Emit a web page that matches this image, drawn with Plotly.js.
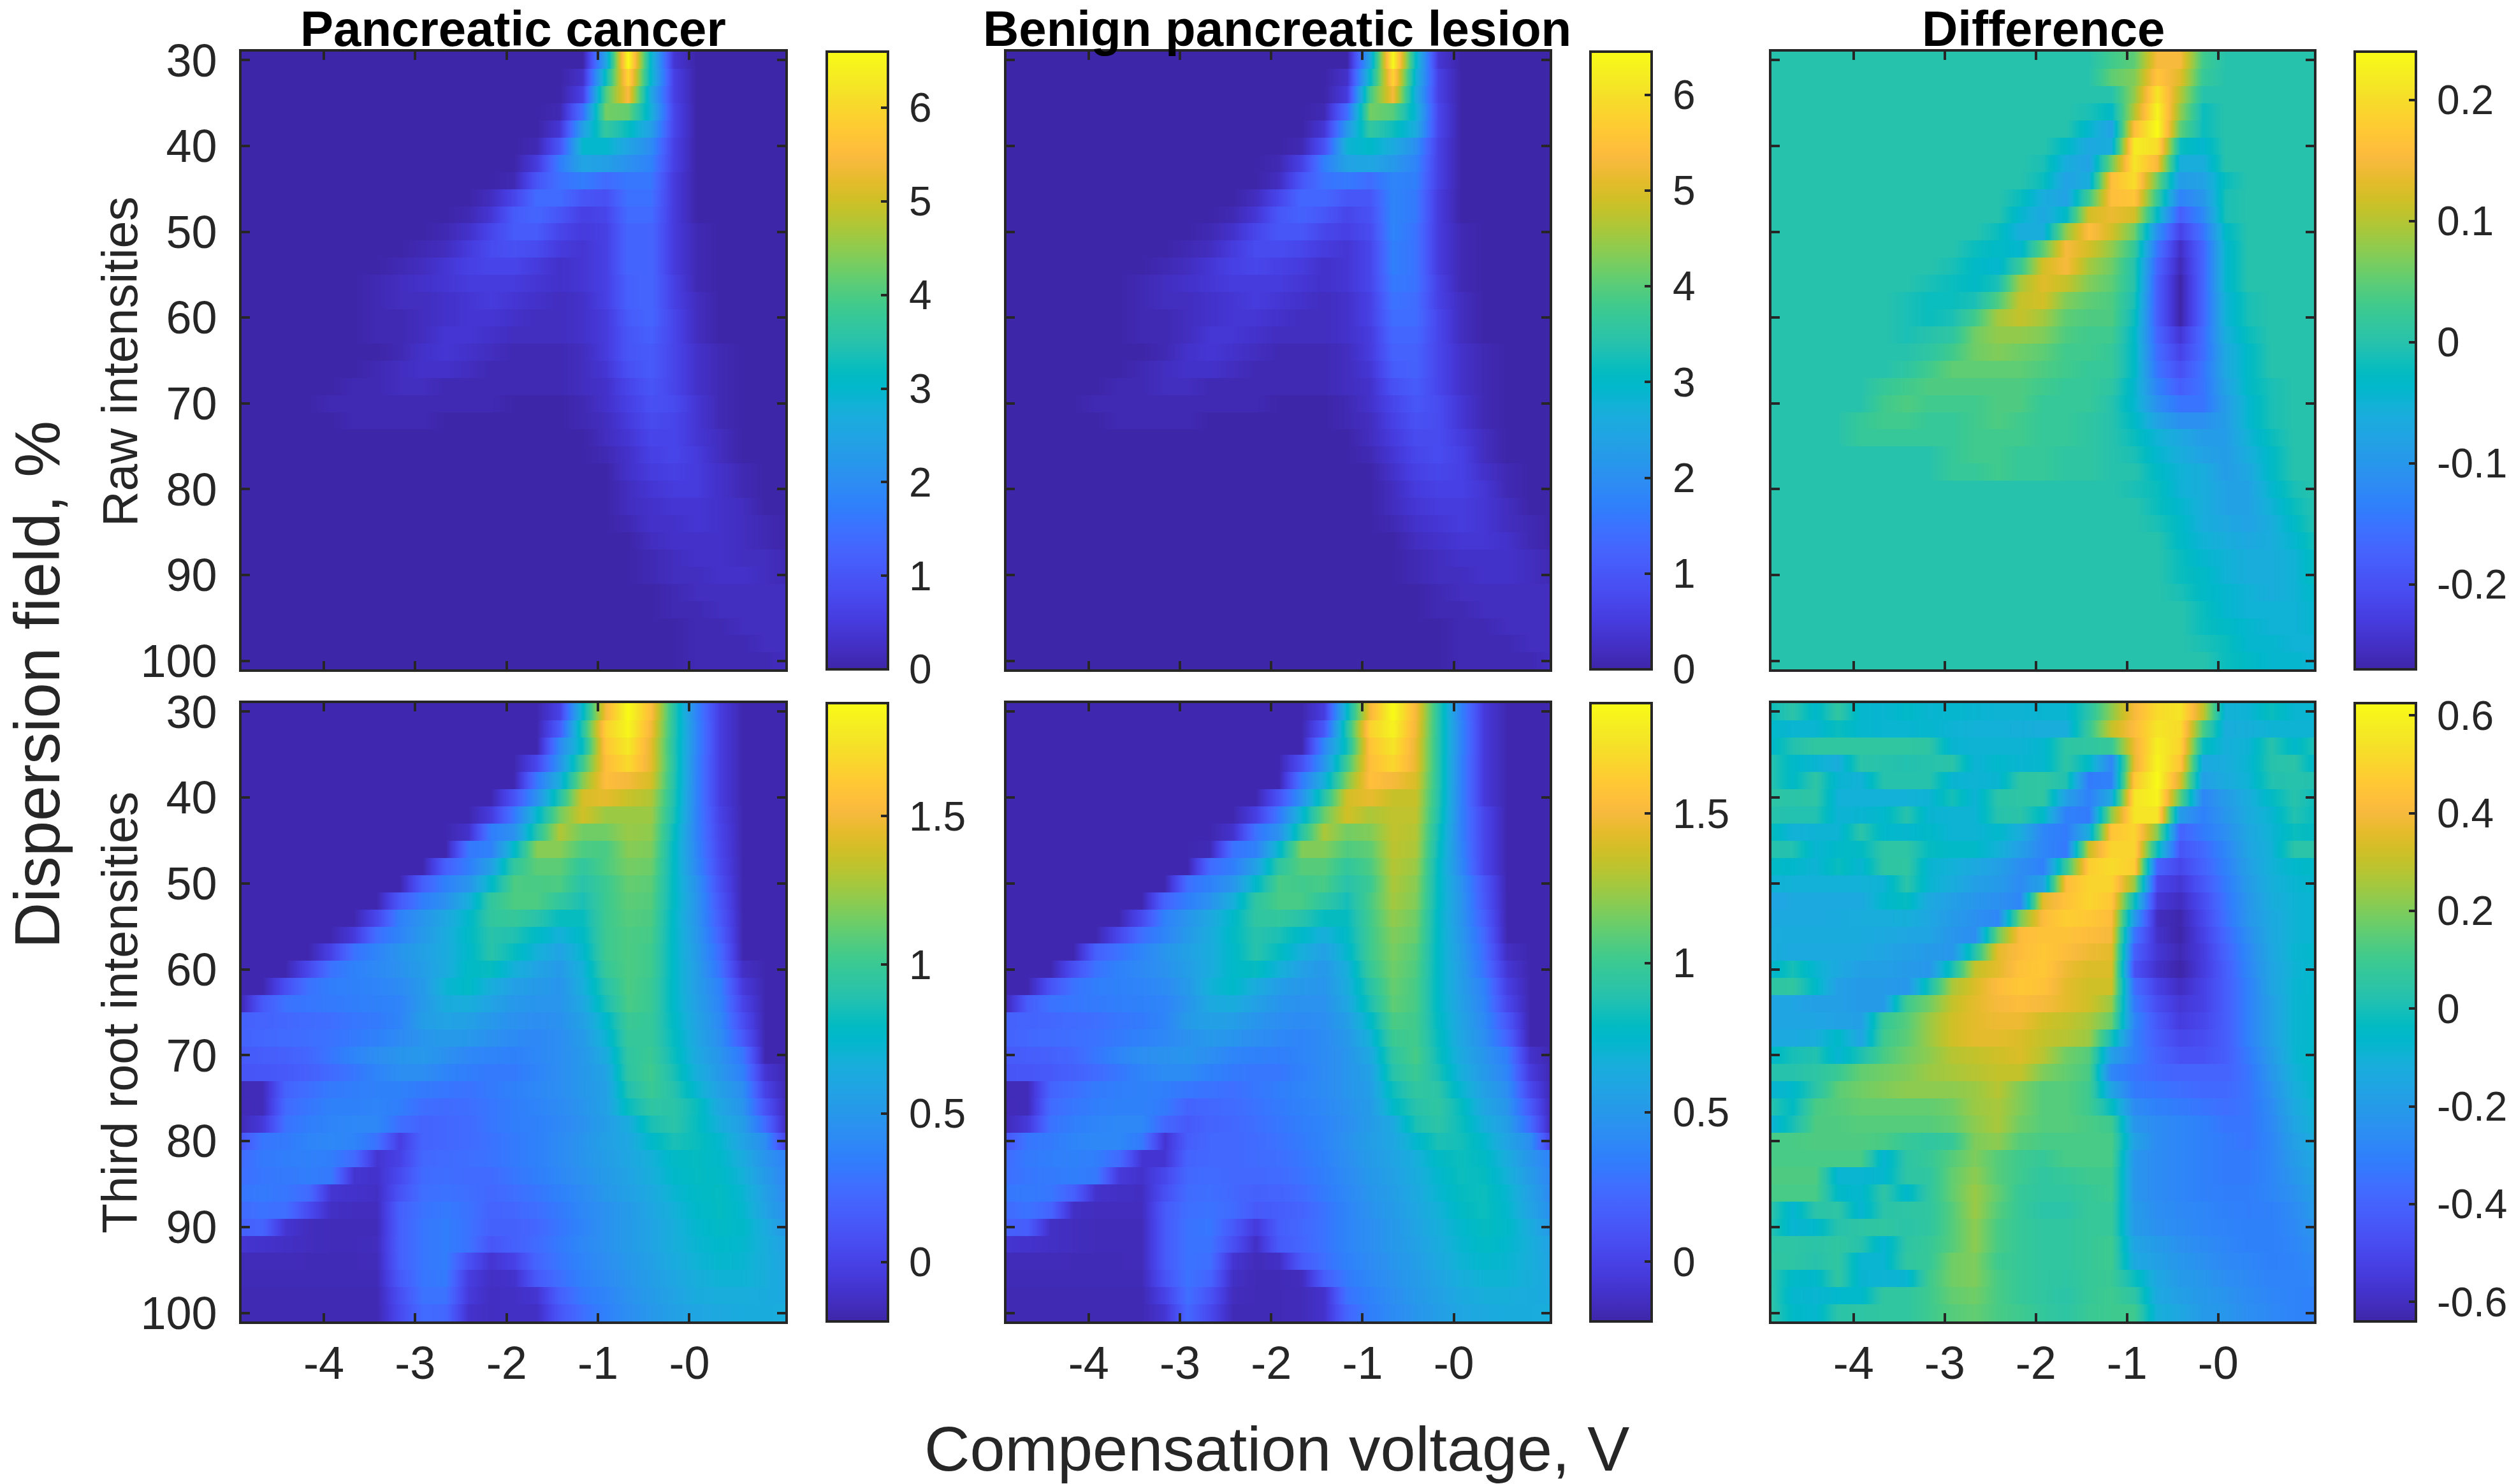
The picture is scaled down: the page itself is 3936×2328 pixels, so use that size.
<!DOCTYPE html>
<html>
<head>
<meta charset="utf-8">
<title>Dispersion field maps</title>
<script src="https://cdn.plot.ly/plotly-3.0.1.min.js"></script>
<style>
    html, body { margin: 0; padding: 0; background: #fff; }
</style>
</head>
<body>
<div id="chart"></div>
<script>
// Compensation voltage (V) of each column, dispersion field (%) of each row.
const voltages = [-4.92,-4.67,-4.42,-4.17,-3.92,-3.67,-3.42,-3.17,-2.92,-2.67,-2.42,-2.17,-1.92,-1.67,-1.42,-1.17,-0.92,-0.67,-0.42,-0.17,0.08,0.33,0.58,0.83,1.08];
const fields = [30,32,34,36,38,40,42,44,46,48,50,52,54,56,58,60,62,64,66,68,70,72,74,76,78,80,82,84,86,88,90,92,94,96,98,100];

// Raw intensities, in tenths.
const rawCancer = [
[0,0,0,0,0,0,0,0,0,0,0,0,0,0,0,0,25,66,30,4,0,0,0,0,0],
[0,0,0,0,0,0,0,0,0,0,0,0,0,0,0,3,32,60,30,6,0,0,0,0,0],
[0,0,0,0,0,0,0,0,0,0,0,0,0,0,0,6,40,55,26,6,0,0,0,0,0],
[0,0,0,0,0,0,0,0,0,0,0,0,0,0,1,15,43,42,28,7,0,0,0,0,0],
[0,0,0,0,0,0,0,0,0,0,0,0,0,0,4,24,37,32,24,7,0,0,0,0,0],
[0,0,0,0,0,0,0,0,0,0,0,0,0,1,10,30,30,25,20,6,0,0,0,0,0],
[0,0,0,0,0,0,0,0,0,0,0,0,0,5,17,25,24,21,18,6,0,0,0,0,0],
[0,0,0,0,0,0,0,0,0,0,0,0,1,10,15,17,14,16,16,5,0,0,0,0,0],
[0,0,0,0,0,0,0,0,0,0,0,2,7,14,14,10,9,15,15,5,0,0,0,0,0],
[0,0,0,0,0,0,0,0,0,0,1,4,11,13,10,6,7,14,14,5,0,0,0,0,0],
[0,0,0,0,0,0,0,0,0,1,3,7,11,11,7,5,6,13,13,5,1,0,0,0,0],
[0,0,0,0,0,0,0,0,1,2,5,8,9,8,5,4,6,13,13,5,1,0,0,0,0],
[0,0,0,0,0,0,0,1,2,4,6,7,7,5,3,4,6,13,13,5,1,0,0,0,0],
[0,0,0,0,0,0,1,2,3,4,5,5,5,4,3,4,6,12,13,6,1,0,0,0,0],
[0,0,0,0,0,0,1,2,2,3,4,5,4,3,2,3,6,12,13,6,2,0,0,0,0],
[0,0,0,0,0,0,1,1,2,3,4,4,3,2,2,3,5,11,13,7,2,0,0,0,0],
[0,0,0,0,0,0,1,1,2,4,4,3,2,2,2,3,5,10,12,7,2,0,0,0,0],
[0,0,0,0,0,0,0,1,3,4,3,2,1,1,1,2,5,10,11,7,3,1,0,0,0],
[0,0,0,0,0,0,1,2,3,3,2,1,1,1,1,2,4,9,11,7,3,1,0,0,0],
[0,0,0,0,0,1,1,2,2,1,1,1,1,1,1,2,3,7,10,7,3,1,0,0,0],
[0,0,0,0,1,1,1,1,1,1,1,1,0,0,0,1,3,6,9,8,4,1,0,0,0],
[0,0,0,0,0,1,1,1,1,0,0,0,0,0,0,1,2,5,8,7,4,1,0,0,0],
[0,0,0,0,0,0,0,0,0,0,0,0,0,0,0,0,2,4,7,7,4,2,0,0,0],
[0,0,0,0,0,0,0,0,0,0,0,0,0,0,0,0,1,3,6,7,5,2,0,0,0],
[0,0,0,0,0,0,0,0,0,0,0,0,0,0,0,0,0,3,5,6,5,3,1,0,0],
[0,0,0,0,0,0,0,0,0,0,0,0,0,0,0,0,0,2,4,5,5,3,1,0,0],
[0,0,0,0,0,0,0,0,0,0,0,0,0,0,0,0,0,2,3,4,4,3,2,0,0],
[0,0,0,0,0,0,0,0,0,0,0,0,0,0,0,0,0,1,3,3,4,3,2,1,0],
[0,0,0,0,0,0,0,0,0,0,0,0,0,0,0,0,0,0,2,3,3,3,2,1,0],
[0,0,0,0,0,0,0,0,0,0,0,0,0,0,0,0,0,0,1,2,3,3,2,2,1],
[0,0,0,0,0,0,0,0,0,0,0,0,0,0,0,0,0,0,1,2,2,3,3,2,1],
[0,0,0,0,0,0,0,0,0,0,0,0,0,0,0,0,0,0,0,1,2,2,2,2,2],
[0,0,0,0,0,0,0,0,0,0,0,0,0,0,0,0,0,0,0,1,1,2,2,2,2],
[0,0,0,0,0,0,0,0,0,0,0,0,0,0,0,0,0,0,0,0,1,1,2,2,2],
[0,0,0,0,0,0,0,0,0,0,0,0,0,0,0,0,0,0,0,0,1,1,1,2,2],
[0,0,0,0,0,0,0,0,0,0,0,0,0,0,0,0,0,0,0,0,1,1,1,1,2]
];

const rawBenign = [
[0,0,0,0,0,0,0,0,0,0,0,0,0,0,0,0,25,64,30,4,0,0,0,0,0],
[0,0,0,0,0,0,0,0,0,0,0,0,0,0,0,3,30,58,28,6,0,0,0,0,0],
[0,0,0,0,0,0,0,0,0,0,0,0,0,0,0,5,38,53,26,6,0,0,0,0,0],
[0,0,0,0,0,0,0,0,0,0,0,0,0,0,1,14,42,40,28,7,0,0,0,0,0],
[0,0,0,0,0,0,0,0,0,0,0,0,0,0,4,22,36,32,26,7,0,0,0,0,0],
[0,0,0,0,0,0,0,0,0,0,0,0,0,1,9,28,30,26,20,6,0,0,0,0,0],
[0,0,0,0,0,0,0,0,0,0,0,0,1,6,17,24,25,22,18,6,0,0,0,0,0],
[0,0,0,0,0,0,0,0,0,0,0,0,2,10,15,16,14,18,17,6,0,0,0,0,0],
[0,0,0,0,0,0,0,0,0,0,0,2,7,13,13,10,10,18,16,5,0,0,0,0,0],
[0,0,0,0,0,0,0,0,0,0,1,4,10,12,10,7,9,18,16,5,0,0,0,0,0],
[0,0,0,0,0,0,0,0,0,1,3,7,10,10,7,6,8,18,15,5,1,0,0,0,0],
[0,0,0,0,0,0,0,0,1,2,5,8,8,7,5,4,7,17,15,5,1,0,0,0,0],
[0,0,0,0,0,0,0,1,2,4,6,7,6,5,3,4,7,17,15,5,1,0,0,0,0],
[0,0,0,0,0,0,1,2,3,4,5,5,5,4,3,4,7,16,15,6,1,0,0,0,0],
[0,0,0,0,0,0,1,2,2,3,4,5,4,3,2,3,6,15,14,6,2,0,0,0,0],
[0,0,0,0,0,0,1,1,2,3,4,4,3,2,2,3,6,14,14,7,2,0,0,0,0],
[0,0,0,0,0,0,1,1,2,4,4,3,2,2,2,3,5,13,13,7,2,0,0,0,0],
[0,0,0,0,0,0,0,1,3,4,3,2,1,1,1,2,5,12,12,7,3,1,0,0,0],
[0,0,0,0,0,0,1,2,3,3,2,1,1,1,1,2,4,11,12,7,3,1,0,0,0],
[0,0,0,0,0,1,1,2,2,1,1,1,1,1,1,2,3,9,11,7,3,1,0,0,0],
[0,0,0,0,1,1,1,1,1,1,1,1,0,0,0,1,3,7,10,8,4,1,0,0,0],
[0,0,0,0,0,1,1,1,1,0,0,0,0,0,0,1,2,6,9,8,4,1,0,0,0],
[0,0,0,0,0,0,0,0,0,0,0,0,0,0,0,0,2,5,8,8,5,2,0,0,0],
[0,0,0,0,0,0,0,0,0,0,0,0,0,0,0,0,1,4,7,8,6,2,0,0,0],
[0,0,0,0,0,0,0,0,0,0,0,0,0,0,0,0,0,3,6,7,6,3,1,0,0],
[0,0,0,0,0,0,0,0,0,0,0,0,0,0,0,0,0,2,5,6,6,4,1,0,0],
[0,0,0,0,0,0,0,0,0,0,0,0,0,0,0,0,0,2,4,5,5,4,2,0,0],
[0,0,0,0,0,0,0,0,0,0,0,0,0,0,0,0,0,1,3,4,5,4,2,1,0],
[0,0,0,0,0,0,0,0,0,0,0,0,0,0,0,0,0,0,2,3,4,4,3,1,0],
[0,0,0,0,0,0,0,0,0,0,0,0,0,0,0,0,0,0,1,2,3,3,3,2,1],
[0,0,0,0,0,0,0,0,0,0,0,0,0,0,0,0,0,0,1,2,2,3,3,2,1],
[0,0,0,0,0,0,0,0,0,0,0,0,0,0,0,0,0,0,0,1,2,2,2,2,2],
[0,0,0,0,0,0,0,0,0,0,0,0,0,0,0,0,0,0,0,1,1,2,2,2,2],
[0,0,0,0,0,0,0,0,0,0,0,0,0,0,0,0,0,0,0,0,1,1,2,2,2],
[0,0,0,0,0,0,0,0,0,0,0,0,0,0,0,0,0,0,0,0,1,1,1,2,2],
[0,0,0,0,0,0,0,0,0,0,0,0,0,0,0,0,0,0,0,0,1,1,1,1,2]
];

// Difference of raw intensities, in hundredths.
const rawDifference = [
[0,0,0,0,0,0,0,0,0,0,0,0,0,0,0,3,5,15,15,3,0,0,0,0,0],
[0,0,0,0,0,0,0,0,0,0,0,0,0,0,0,5,7,17,13,2,0,0,0,0,0],
[0,0,0,0,0,0,0,0,0,0,0,0,0,0,0,0,8,21,10,0,0,0,0,0,0],
[0,0,0,0,0,0,0,0,0,0,0,0,0,0,-1,-3,10,23,8,-2,0,0,0,0,0],
[0,0,0,0,0,0,0,0,0,0,0,0,0,0,-4,-8,16,24,5,-2,0,0,0,0,0],
[0,0,0,0,0,0,0,0,0,0,0,0,0,-3,-7,-6,22,20,-2,-4,0,0,0,0,0],
[0,0,0,0,0,0,0,0,0,0,0,0,-1,-6,-8,6,21,15,-6,-6,0,0,0,0,0],
[0,0,0,0,0,0,0,0,0,0,0,0,-2,-8,-6,16,20,6,-9,-8,-2,0,0,0,0],
[0,0,0,0,0,0,0,0,0,0,0,-2,-6,-8,3,16,17,2,-13,-10,-1,0,0,0,0],
[0,0,0,0,0,0,0,0,0,0,0,-4,-7,-3,12,14,12,-3,-18,-12,-1,0,0,0,0],
[0,0,0,0,0,0,0,0,0,0,-2,-6,-6,8,16,12,6,-11,-22,-15,-3,0,0,0,0],
[0,0,0,0,0,0,0,0,0,-2,-3,-4,5,15,12,8,2,-15,-25,-17,-4,0,0,0,0],
[0,0,0,0,0,0,0,0,-1,-3,-4,2,12,15,9,6,0,-17,-26,-17,-4,0,0,0,0],
[0,0,0,0,0,0,0,-1,-2,-3,-1,9,13,11,7,5,0,-18,-27,-17,-4,0,0,0,0],
[0,0,0,0,0,0,-1,-2,-2,-1,4,11,12,7,5,4,-1,-18,-27,-17,-5,-1,0,0,0],
[0,0,0,0,0,0,-1,-2,-1,3,9,11,9,5,4,4,-2,-18,-27,-17,-5,-1,0,0,0],
[0,0,0,0,0,0,-1,0,1,6,8,8,7,4,3,3,-3,-17,-24,-16,-6,-2,0,0,0],
[0,0,0,0,0,0,0,1,3,6,7,6,5,3,3,2,-3,-16,-22,-16,-7,-3,0,0,0],
[0,0,0,0,0,0,1,3,5,5,5,5,4,3,2,2,-3,-15,-20,-15,-7,-3,0,0,0],
[0,0,0,0,0,2,3,4,4,4,4,4,3,2,2,1,-4,-13,-18,-15,-8,-3,-1,0,0],
[0,0,0,0,0,3,4,3,3,3,4,4,2,2,2,0,-4,-11,-15,-15,-9,-4,-1,0,0],
[0,0,0,0,2,3,3,2,2,3,4,3,2,2,1,0,-3,-8,-11,-11,-9,-4,-1,0,0],
[0,0,0,0,2,2,2,2,2,3,3,3,2,2,1,0,-2,-5,-7,-9,-9,-5,-2,0,0],
[0,0,0,0,0,0,0,0,2,3,3,2,2,1,1,0,-1,-4,-6,-8,-9,-6,-3,0,0],
[0,0,0,0,0,0,0,0,2,2,3,2,2,1,1,0,0,-3,-5,-6,-9,-7,-3,0,0],
[0,0,0,0,0,0,0,0,0,0,0,0,0,0,0,0,-1,-2,-5,-6,-8,-8,-4,-1,0],
[0,0,0,0,0,0,0,0,0,0,0,0,0,0,0,0,0,-2,-4,-6,-8,-8,-5,-2,0],
[0,0,0,0,0,0,0,0,0,0,0,0,0,0,0,0,0,-1,-3,-6,-7,-8,-6,-3,0],
[0,0,0,0,0,0,0,0,0,0,0,0,0,0,0,0,0,0,-3,-5,-6,-7,-6,-4,-1],
[0,0,0,0,0,0,0,0,0,0,0,0,0,0,0,0,0,0,-2,-4,-5,-6,-6,-5,-2],
[0,0,0,0,0,0,0,0,0,0,0,0,0,0,0,0,0,0,-2,-3,-5,-6,-6,-5,-2],
[0,0,0,0,0,0,0,0,0,0,0,0,0,0,0,0,0,0,-1,-3,-4,-5,-6,-5,-3],
[0,0,0,0,0,0,0,0,0,0,0,0,0,0,0,0,0,0,0,-2,-4,-5,-5,-5,-4],
[0,0,0,0,0,0,0,0,0,0,0,0,0,0,0,0,0,0,0,-2,-3,-4,-5,-5,-4],
[0,0,0,0,0,0,0,0,0,0,0,0,0,0,0,0,0,0,0,-1,-2,-4,-4,-5,-5],
[0,0,0,0,0,0,0,0,0,0,0,0,0,0,0,0,0,0,0,0,-2,-3,-4,-4,-5]
];

// Third root intensities, in hundredths.
const rootCancer = [
[-18,-18,-18,-18,-18,-18,-18,-18,-18,-18,-18,-18,-18,-18,0,76,150,188,155,91,36,-3,-18,-18,-18],
[-18,-18,-18,-18,-18,-18,-18,-18,-18,-18,-18,-18,-18,-18,16,91,165,185,150,91,38,-3,-18,-18,-18],
[-18,-18,-18,-18,-18,-18,-18,-18,-18,-18,-18,-18,-18,-18,41,81,160,178,145,90,38,-3,-18,-18,-18],
[-18,-18,-18,-18,-18,-18,-18,-18,-18,-18,-18,-18,-18,3,48,101,155,170,145,91,36,-3,-18,-18,-18],
[-18,-18,-18,-18,-18,-18,-18,-18,-18,-18,-18,-18,-18,31,66,120,155,150,140,90,36,-3,-18,-18,-18],
[-18,-18,-18,-18,-18,-18,-18,-18,-18,-18,-18,-18,10,46,90,140,145,136,130,88,36,-3,-18,-18,-18],
[-18,-18,-18,-18,-18,-18,-18,-18,-18,-18,-18,-4,31,74,115,138,125,125,125,86,36,0,-18,-18,-18],
[-18,-18,-18,-18,-18,-18,-18,-18,-18,-18,-10,34,46,91,130,115,115,124,122,81,36,2,-18,-18,-18],
[-18,-18,-18,-18,-18,-18,-18,-18,-18,-18,31,36,76,120,120,106,105,120,118,78,38,3,-18,-18,-18],
[-18,-18,-18,-18,-18,-18,-18,-18,-18,18,34,56,96,110,110,96,106,116,114,78,40,5,-18,-18,-18],
[-18,-18,-18,-18,-18,-18,-18,-18,17,36,48,76,106,105,106,91,101,112,110,78,46,8,-18,-18,-18],
[-18,-18,-18,-18,-18,-18,-18,14,34,46,66,96,106,106,96,86,101,110,108,78,48,12,-18,-18,-18],
[-18,-18,-18,-18,-18,-18,3,36,48,61,76,96,98,91,81,81,101,108,106,76,48,15,-18,-18,-18],
[-18,-18,-18,-18,-18,-5,26,38,51,64,78,91,88,78,68,78,101,106,104,76,50,19,-18,-18,-18],
[-18,-18,-18,-18,0,28,38,48,56,64,76,91,81,68,58,74,101,106,102,76,52,24,-18,-18,-18],
[-18,-18,-18,4,28,36,41,46,54,64,78,81,68,58,52,68,98,106,102,76,54,28,-12,-18,-18],
[-18,-18,8,28,34,36,38,42,51,71,78,66,56,52,48,66,91,106,100,76,54,36,-5,-18,-18],
[-18,14,28,30,32,34,36,38,51,64,66,58,50,48,48,61,86,105,100,76,56,38,1,-18,-18],
[18,20,22,24,26,30,32,38,54,58,56,50,46,44,46,56,76,100,98,78,58,41,7,-18,-18],
[20,22,24,26,28,32,36,42,48,52,50,46,42,40,44,52,71,98,98,80,60,44,14,-18,-18],
[14,16,18,22,30,38,44,48,50,46,40,38,36,40,44,50,64,95,100,82,62,48,30,-18,-18],
[11,12,14,18,24,30,38,44,44,38,34,32,32,38,44,50,58,94,102,86,66,51,36,-8,-18],
[-15,-15,20,26,32,34,36,36,32,30,28,32,36,40,44,50,56,88,100,90,72,56,44,0,-18],
[-16,-15,24,30,36,36,38,34,26,24,26,30,34,38,42,48,56,81,94,92,82,61,48,10,-18],
[-16,-5,28,34,38,40,40,26,20,22,24,30,34,36,40,46,54,64,86,92,81,66,54,24,-18],
[11,30,32,38,40,38,28,-2,20,22,24,28,32,36,42,48,56,61,76,86,82,74,58,44,-5],
[24,32,34,36,34,24,-8,0,22,24,26,28,32,36,42,48,54,60,68,78,80,76,64,48,36],
[26,30,32,34,32,-8,-10,5,24,26,24,24,30,34,40,46,52,58,66,76,80,78,68,52,38],
[30,32,30,24,-8,-10,-12,10,26,28,26,22,26,30,36,42,50,56,62,72,78,80,72,56,40],
[24,28,26,5,-12,-14,-14,18,28,32,28,20,22,26,32,40,46,52,60,68,76,80,74,58,44],
[18,20,-8,-14,-15,-15,-15,18,30,34,28,18,18,22,30,38,46,52,58,66,74,78,76,64,50],
[-8,-10,-12,-14,-15,-15,-14,18,30,34,28,12,18,24,32,40,46,52,58,66,72,76,74,66,56],
[-15,-15,-15,-16,-16,-16,-15,18,30,34,8,-8,0,21,30,38,44,50,56,64,70,74,72,66,58],
[-16,-16,-16,-16,-16,-16,-16,14,30,32,-3,-12,-10,14,26,36,42,48,54,60,66,70,70,66,60],
[-17,-17,-17,-17,-17,-17,-17,8,28,28,-5,-13,-12,-8,18,32,38,46,52,58,64,66,66,64,62],
[-17,-17,-17,-17,-17,-17,-17,5,24,22,-10,-13,-12,-12,12,26,36,44,50,56,60,62,64,64,66]
];

const rootBenign = [
[-18,-18,-18,-18,-18,-18,-18,-18,-18,-18,-18,-18,-18,-18,-3,76,150,187,150,91,36,-5,-18,-18,-18],
[-18,-18,-18,-18,-18,-18,-18,-18,-18,-18,-18,-18,-18,-18,13,91,165,182,148,91,38,-5,-18,-18,-18],
[-18,-18,-18,-18,-18,-18,-18,-18,-18,-18,-18,-18,-18,-18,39,84,158,175,145,91,38,-5,-18,-18,-18],
[-18,-18,-18,-18,-18,-18,-18,-18,-18,-18,-18,-18,-18,8,48,101,155,168,145,91,36,-5,-18,-18,-18],
[-18,-18,-18,-18,-18,-18,-18,-18,-18,-18,-18,-18,-18,32,66,118,155,150,140,91,36,-5,-18,-18,-18],
[-18,-18,-18,-18,-18,-18,-18,-18,-18,-18,-18,-18,10,46,90,138,145,135,135,90,36,-5,-18,-18,-18],
[-18,-18,-18,-18,-18,-18,-18,-18,-18,-18,-18,-2,31,72,112,138,128,133,133,88,36,2,-18,-18,-18],
[-18,-18,-18,-18,-18,-18,-18,-18,-18,-18,-10,28,46,91,128,115,118,133,130,84,36,2,-18,-18,-18],
[-18,-18,-18,-18,-18,-18,-18,-18,-18,-16,28,36,74,118,118,106,110,132,128,81,38,2,-18,-18,-18],
[-18,-18,-18,-18,-18,-18,-18,-18,-18,24,34,56,94,108,108,96,105,130,124,78,40,2,-18,-18,-18],
[-18,-18,-18,-18,-18,-18,-18,-18,26,36,48,76,104,102,104,90,100,128,120,78,46,12,-18,-18,-18],
[-18,-18,-18,-18,-18,-18,-18,20,34,46,66,94,104,104,94,84,104,126,118,78,48,13,-18,-18,-18],
[-18,-18,-18,-18,-18,-18,5,36,48,61,76,94,96,90,80,80,102,122,114,76,48,17,-18,-18,-18],
[-18,-18,-18,-18,-18,3,26,38,51,64,78,90,86,76,66,78,101,118,112,76,50,22,-18,-18,-18],
[-18,-18,-18,-18,18,28,38,48,56,64,76,90,80,66,56,74,101,116,108,76,52,25,-13,-18,-18],
[-18,-18,-18,8,28,36,41,46,54,64,76,80,68,56,50,66,98,114,106,76,54,28,-7,-18,-18],
[-18,-18,10,28,34,36,38,42,51,68,76,64,54,50,48,64,91,112,104,76,54,36,-2,-18,-18],
[-18,16,28,30,32,34,36,38,48,62,64,56,48,46,46,60,86,110,104,76,56,38,3,-18,-18],
[18,20,22,24,26,30,32,38,52,56,54,48,44,42,44,54,76,105,102,78,58,41,13,-18,-18],
[20,22,24,26,28,32,36,40,46,50,48,44,40,38,42,50,68,100,102,80,60,44,20,-18,-18],
[14,16,18,22,30,38,44,46,48,44,38,36,34,38,42,48,61,94,104,82,62,48,34,-10,-18],
[11,12,14,18,24,30,38,42,42,36,32,30,30,36,42,48,56,90,100,86,66,51,38,-4,-18],
[-15,-15,20,26,32,34,36,34,30,28,26,30,34,38,42,48,54,82,95,92,72,56,44,4,-18],
[-16,-15,24,30,34,36,36,32,20,22,24,28,32,36,40,46,52,76,90,94,80,60,48,14,-18],
[-16,-5,28,34,38,40,40,22,14,20,22,26,30,34,38,44,52,62,86,92,82,66,54,24,-18],
[11,30,32,38,40,40,32,-8,16,22,22,24,28,32,38,46,54,60,74,86,84,74,58,44,-5],
[24,32,34,36,34,24,-8,-8,20,22,22,24,26,30,36,44,52,58,66,78,82,78,64,48,36],
[26,30,32,34,32,-5,-10,3,22,24,22,22,24,28,34,42,50,56,64,74,82,80,68,52,38],
[30,32,30,18,-10,-12,-13,8,24,26,22,18,20,24,32,40,48,54,62,72,80,82,72,56,40],
[24,28,20,-12,-14,-14,-14,14,26,28,24,14,16,20,28,38,46,52,60,68,78,82,74,58,44],
[18,16,-12,-14,-15,-15,-15,14,28,30,14,-5,16,22,28,38,44,50,58,66,74,80,76,64,50],
[-8,-10,-12,-14,-15,-15,-15,14,28,28,8,-12,14,21,28,38,44,50,56,64,72,78,74,66,56],
[-15,-15,-15,-16,-16,-16,-15,14,28,26,-8,-15,-12,14,26,36,42,48,54,62,70,74,72,66,58],
[-16,-16,-16,-16,-16,-16,-16,10,28,20,-12,-16,-16,-14,16,32,40,46,52,58,66,70,70,66,60],
[-17,-17,-17,-17,-17,-17,-17,0,26,10,-14,-16,-16,-15,-10,28,36,44,50,56,62,66,66,64,62],
[-17,-17,-17,-17,-17,-17,-17,-8,22,4,-16,-16,-16,-15,-10,21,34,42,48,54,60,62,64,64,66]
];

const rootDifference = [
[-2,4,-6,6,-7,-8,-5,-8,-7,-8,-9,-9,-8,-8,4,22,40,52,55,30,-10,-9,-2,-8,-8],
[-6,-8,-8,-2,-7,-8,-8,-7,-9,-10,-10,-11,-12,-12,8,30,42,55,52,12,-12,-11,-9,-9,-9],
[-7,2,6,6,6,6,6,5,-8,-9,-9,-9,-7,5,6,8,38,58,50,-2,-11,-9,3,-6,2],
[3,-5,-8,-12,4,3,2,3,4,-9,-6,-8,-7,5,-5,-28,37,60,45,-14,-12,-8,3,4,-7],
[3,-5,5,-8,-10,3,3,3,-8,-9,-8,5,6,2,-32,-30,46,62,34,-18,-13,-9,2,3,2],
[5,4,5,-10,-10,-10,-10,-9,0,-9,4,5,6,-18,-30,-14,55,60,15,-28,-20,-12,-4,3,-2],
[3,2,2,-9,-8,-6,3,-8,-9,-9,3,4,-5,-30,-32,22,55,55,-20,-30,-22,-13,-8,2,-3],
[-2,-10,-9,-9,4,-6,-7,-5,-9,-9,-6,-12,-28,-32,-12,45,50,21,-40,-32,-25,-15,-9,-2,-4],
[3,2,-8,-5,-4,5,5,-3,-5,-5,-10,-18,-28,-33,31,50,50,-2,-45,-38,-28,-16,-10,4,4],
[-4,-6,-9,-2,-8,5,6,-8,-10,-14,-18,-25,-30,8,48,52,48,-40,-50,-40,-30,-18,-10,-6,-5],
[-9,-10,-10,-10,-10,-9,4,-8,-12,-18,-20,-26,-17,42,50,50,24,-50,-56,-44,-32,-20,-11,-8,-7],
[-16,-14,-14,-14,-14,-6,-3,-14,-18,-22,-24,-28,36,44,50,46,-2,-55,-60,-48,-34,-22,-12,-9,-8],
[-14,-14,-14,-13,-12,-12,-11,-15,-20,-24,-28,19,42,48,46,42,-20,-60,-63,-50,-35,-22,-14,-9,-8],
[-12,-13,-13,-13,-13,-14,-15,-16,-22,-25,17,42,44,44,42,40,-34,-58,-64,-52,-38,-25,-14,-9,-8],
[-12,-14,-14,-14,-14,-16,-18,-20,-22,3,36,42,46,42,38,36,-41,-56,-62,-54,-40,-27,-15,-8,-6],
[-8,0,-8,-14,-18,-18,-20,-22,0,30,36,44,46,38,34,34,-46,-58,-64,-54,-42,-28,-16,-9,-6],
[5,6,-5,-18,-20,-20,-22,0,26,34,42,46,44,36,32,32,-36,-52,-60,-52,-42,-30,-16,-8,-7],
[-16,-16,-18,-18,-20,-20,10,18,30,36,40,42,40,36,32,24,-32,-48,-56,-52,-42,-30,-18,-8,-6],
[-16,-16,-16,-17,-18,8,14,24,32,36,38,38,32,30,26,17,-28,-44,-54,-50,-42,-30,-18,-8,-6],
[-14,-14,-12,-5,-16,10,15,24,32,36,36,34,30,28,24,0,-30,-42,-50,-48,-42,-30,-18,-8,-6],
[-6,0,2,-8,1,12,18,22,28,30,32,34,28,18,14,-18,-30,-40,-46,-46,-42,-32,-20,-8,-5],
[3,3,5,9,16,18,20,24,26,28,30,30,20,16,12,-28,-34,-38,-40,-40,-40,-34,-22,-10,-5],
[-8,-6,4,15,18,20,22,22,22,24,28,20,14,14,10,-16,-32,-34,-36,-38,-38,-34,-24,-12,-6],
[3,-4,12,14,16,16,16,16,18,24,26,20,14,14,10,-3,-26,-30,-32,-34,-36,-34,-26,-14,-8],
[-10,0,13,13,14,14,14,14,16,22,26,18,14,14,12,10,-22,-26,-28,-30,-34,-34,-27,-16,-9],
[12,12,13,13,13,12,8,6,8,20,22,14,12,12,12,12,-17,-26,-28,-30,-32,-34,-28,-18,-12],
[12,12,12,12,12,-8,5,8,14,20,14,10,8,12,12,12,-22,-26,-28,-30,-32,-32,-28,-20,-14],
[13,13,13,-8,-8,-7,5,6,16,22,14,10,6,8,10,10,-22,-26,-28,-30,-32,-32,-28,-22,-16],
[12,12,12,-5,-7,5,-6,6,16,24,16,8,6,6,8,10,-22,-26,-28,-30,-31,-31,-28,-24,-18],
[5,-8,4,5,-8,4,5,6,14,24,14,8,4,4,8,8,-20,-25,-27,-28,-30,-31,-30,-26,-20],
[3,-8,-6,3,5,6,4,6,14,22,12,8,6,6,8,8,-20,-24,-26,-28,-29,-30,-30,-27,-22],
[5,5,4,6,3,-8,5,8,14,22,12,8,6,6,8,10,-16,-20,-24,-26,-28,-30,-30,-28,-24],
[6,5,3,6,-8,-8,6,8,18,20,10,8,6,6,8,10,-14,-18,-22,-24,-27,-28,-30,-29,-26],
[4,-5,-6,6,-8,-9,-8,10,18,20,12,8,6,5,8,9,-2,-15,-20,-22,-25,-27,-29,-29,-28],
[5,-7,-8,-6,-6,6,6,10,16,18,12,8,6,4,8,10,5,-14,-18,-21,-23,-26,-28,-29,-30],
[5,-5,-7,4,5,6,6,10,14,16,12,10,7,5,9,10,10,-11,-15,-20,-22,-25,-27,-29,-30]
];

const columnTitles = ["Pancreatic cancer", "Benign pancreatic lesion", "Difference"];
const rowTitles = ["Raw intensities", "Third root intensities"];
const xTickValues = [-4, -3, -2, -1, 0];
const xTickLabels = ["-4", "-3", "-2", "-1", "-0"];
const yTickValues = [30, 40, 50, 60, 70, 80, 90, 100];

// MATLAB parula, 64 levels
const parula = [
    [0.2422,0.1504,0.6603],[0.2504,0.1650,0.7076],[0.2578,0.1818,0.7511],[0.2647,0.1978,0.7952],
    [0.2706,0.2147,0.8364],[0.2751,0.2342,0.8710],[0.2783,0.2559,0.8991],[0.2803,0.2782,0.9221],
    [0.2813,0.3006,0.9414],[0.2810,0.3228,0.9579],[0.2795,0.3447,0.9717],[0.2760,0.3667,0.9829],
    [0.2699,0.3892,0.9906],[0.2602,0.4123,0.9952],[0.2440,0.4358,0.9988],[0.2206,0.4603,0.9973],
    [0.1963,0.4847,0.9892],[0.1834,0.5074,0.9798],[0.1786,0.5289,0.9682],[0.1764,0.5499,0.9520],
    [0.1687,0.5703,0.9359],[0.1540,0.5902,0.9218],[0.1460,0.6091,0.9079],[0.1380,0.6276,0.8973],
    [0.1248,0.6459,0.8883],[0.1113,0.6635,0.8763],[0.0952,0.6798,0.8598],[0.0689,0.6948,0.8394],
    [0.0297,0.7082,0.8163],[0.0036,0.7203,0.7917],[0.0067,0.7312,0.7660],[0.0433,0.7411,0.7394],
    [0.0964,0.7500,0.7120],[0.1408,0.7584,0.6842],[0.1717,0.7670,0.6554],[0.1938,0.7758,0.6251],
    [0.2161,0.7843,0.5923],[0.2470,0.7918,0.5567],[0.2906,0.7973,0.5188],[0.3406,0.8008,0.4789],
    [0.3909,0.8029,0.4354],[0.4456,0.8024,0.3909],[0.5044,0.7993,0.3480],[0.5616,0.7942,0.3045],
    [0.6174,0.7876,0.2612],[0.6720,0.7793,0.2227],[0.7242,0.7698,0.1910],[0.7738,0.7598,0.1646],
    [0.8203,0.7498,0.1535],[0.8634,0.7406,0.1596],[0.9035,0.7330,0.1774],[0.9393,0.7288,0.2100],
    [0.9728,0.7298,0.2394],[0.9956,0.7434,0.2371],[0.9970,0.7659,0.2199],[0.9952,0.7893,0.2028],
    [0.9892,0.8136,0.1885],[0.9786,0.8386,0.1766],[0.9676,0.8639,0.1643],[0.9610,0.8890,0.1537],
    [0.9597,0.9135,0.1423],[0.9628,0.9373,0.1265],[0.9691,0.9606,0.1064],[0.9769,0.9839,0.0805]
];

const WIDTH = 3936;
const HEIGHT = 2328;
const INK = "#262626";

// pixel boxes of the panels
const columnBoxes = [[379, 1232], [1579, 2431], [2779, 3630]];
const rowBoxes = [[81, 1050], [1103, 2073]];
const colorbarLefts = [1297, 2495, 3694];

const panels = [
    {rows: rawCancer, unit: 0.1, col: 0, row: 0, zmin: 0, zmax: 6.6,
        ticks: [0,1,2,3,4,5,6], labels: ["0","1","2","3","4","5","6"]},
    {rows: rawBenign, unit: 0.1, col: 1, row: 0, zmin: 0, zmax: 6.45,
        ticks: [0,1,2,3,4,5,6], labels: ["0","1","2","3","4","5","6"]},
    {rows: rawDifference, unit: 0.01, col: 2, row: 0, zmin: -0.27, zmax: 0.24,
        ticks: [-0.2,-0.1,0,0.1,0.2], labels: ["-0.2","-0.1","0","0.1","0.2"]},
    {rows: rootCancer, unit: 0.01, col: 0, row: 1, zmin: -0.2, zmax: 1.88,
        ticks: [0,0.5,1,1.5], labels: ["0","0.5","1","1.5"]},
    {rows: rootBenign, unit: 0.01, col: 1, row: 1, zmin: -0.2, zmax: 1.87,
        ticks: [0,0.5,1,1.5], labels: ["0","0.5","1","1.5"]},
    {rows: rootDifference, unit: 0.01, col: 2, row: 1, zmin: -0.64, zmax: 0.625,
        ticks: [-0.6,-0.4,-0.2,0,0.2,0.4,0.6], labels: ["-0.6","-0.4","-0.2","0","0.2","0.4","0.6"]}
];


function parulaScale() {
    return parula.map((c, i) => {
        const rgb = c.map(v => Math.round(v * 255)).join(",");
        return [i / (parula.length - 1), `rgb(${rgb})`];
    });
}


// Each row is given twice, at both edges of its 2 % band, so that zsmooth
// blends along the voltage only and the rows keep their hard steps.
function bandEdges() {
    const edges = [];
    fields.forEach(field => {
        edges.push(field - 0.98, field + 0.98);
    });
    return edges;
}


function bandRows(rows, unit) {
    const doubled = [];
    rows.forEach(row => {
        const scaled = row.map(value => value * unit);
        doubled.push(scaled, scaled);
    });
    return doubled;
}


function buildTrace(panel, index) {
    const [top, bottom] = rowBoxes[panel.row];
    return {
        type: "heatmap",
        x: voltages,
        y: bandEdges(),
        z: bandRows(panel.rows, panel.unit),
        zsmooth: "best",
        zmin: panel.zmin,
        zmax: panel.zmax,
        colorscale: parulaScale(),
        xaxis: index === 0 ? "x" : `x${index + 1}`,
        yaxis: index === 0 ? "y" : `y${index + 1}`,
        hoverinfo: "skip",
        colorbar: {
            x: colorbarLefts[panel.col] / WIDTH,
            xanchor: "left",
            xpad: 0,
            y: 1 - bottom / HEIGHT,
            yanchor: "bottom",
            ypad: 0,
            lenmode: "pixels",
            len: bottom - top,
            thicknessmode: "pixels",
            thickness: 96,
            outlinewidth: 4,
            outlinecolor: INK,
            ticks: "inside",
            ticklen: 13,
            tickwidth: 4,
            tickcolor: INK,
            tickmode: "array",
            tickvals: panel.ticks,
            ticktext: panel.labels.map(label => "\u00a0" + label),
            tickfont: {family: "Liberation Sans", size: 64, color: INK}
        }
    };
}


function addAxes(layout, panel, index) {
    const suffix = index === 0 ? "" : String(index + 1);
    const [left, right] = columnBoxes[panel.col];
    const [top, bottom] = rowBoxes[panel.row];
    const common = {
        showline: true,
        linecolor: INK,
        linewidth: 4,
        mirror: "allticks",
        ticks: "inside",
        ticklen: 13,
        tickwidth: 4,
        tickcolor: INK,
        showgrid: false,
        zeroline: false,
        tickmode: "array",
        tickfont: {family: "Liberation Sans", size: 72, color: INK}
    };
    layout["xaxis" + suffix] = {
        ...common,
        domain: [left / WIDTH, right / WIDTH],
        range: [-4.9, 1.05],
        anchor: "y" + suffix,
        tickvals: xTickValues,
        ticktext: panel.row === 1 ? xTickLabels : ["", "", "", "", ""],
        ticklabelstandoff: 0
    };
    layout["yaxis" + suffix] = {
        ...common,
        domain: [1 - bottom / HEIGHT, 1 - top / HEIGHT],
        range: [101, 29],
        anchor: "x" + suffix,
        tickvals: yTickValues,
        ticktext: yTickValues.map(v => (panel.col === 0 ? String(v) : "")),
        ticklabelstandoff: 20
    };
}


function textNote(text, px, py, size, extra) {
    return {
        text: text,
        xref: "paper",
        yref: "paper",
        x: px / WIDTH,
        y: 1 - py / HEIGHT,
        xanchor: "center",
        yanchor: "middle",
        showarrow: false,
        font: {family: "Liberation Sans", size: size, color: INK},
        ...extra
    };
}


function renderChart() {
    const titleFont = {family: "Liberation Sans", size: 78, color: "#000"};
    const layout = {
        width: WIDTH,
        height: HEIGHT,
        margin: {l: 0, r: 0, t: 0, b: 0, autoexpand: false},
        paper_bgcolor: "#ffffff",
        plot_bgcolor: "#ffffff",
        showlegend: false,
        annotations: [
            textNote("<b>" + columnTitles[0] + "</b>", 805, 45, 78, {font: titleFont}),
            textNote("<b>" + columnTitles[1] + "</b>", 2003, 45, 78, {font: titleFont}),
            textNote("<b>" + columnTitles[2] + "</b>", 3205, 45, 78, {font: titleFont}),
            textNote(rowTitles[0], 188, 567, 77, {textangle: -90}),
            textNote(rowTitles[1], 188, 1589, 77, {textangle: -90}),
            textNote("Dispersion field, %", 58, 1074, 100, {textangle: -90}),
            textNote("Compensation voltage, V", 2003, 2272, 99, {})
        ]
    };

    panels.forEach((panel, index) => addAxes(layout, panel, index));

    Plotly.newPlot("chart", panels.map(buildTrace), layout, {staticPlot: true});
}


document.addEventListener("DOMContentLoaded", renderChart);
</script>
</body>
</html>
